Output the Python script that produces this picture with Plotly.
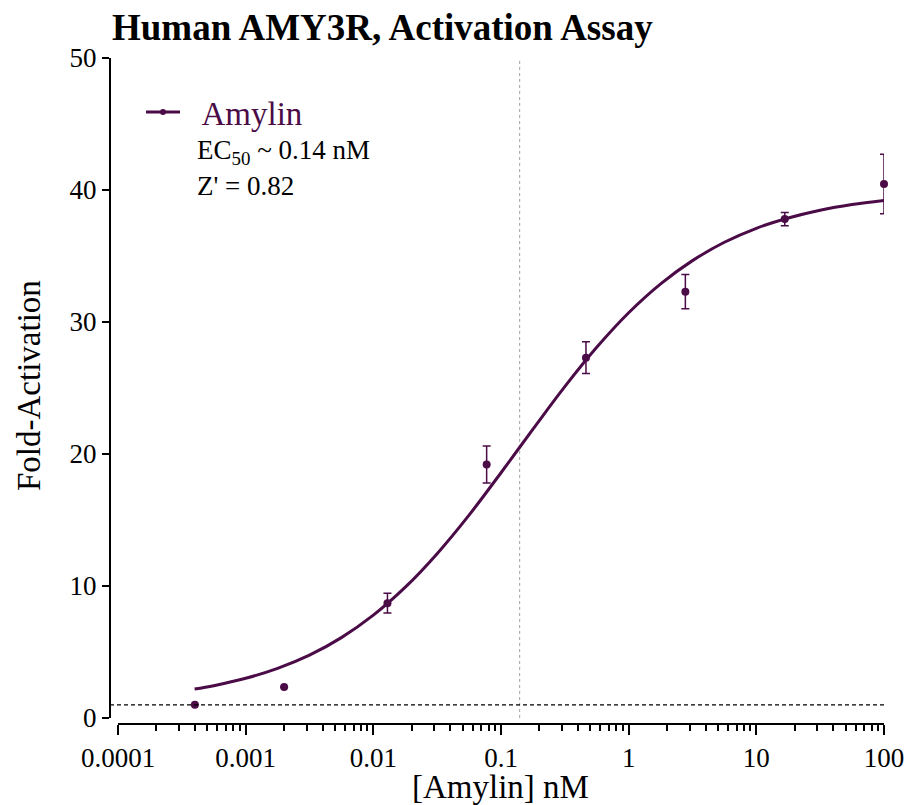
import plotly.graph_objects as go

# Data
conc_nM = [0.0004, 0.002, 0.0129, 0.0772, 0.463, 2.78, 16.7, 100]
fold_act = [1.0, 2.35, 8.7, 19.2, 27.3, 32.3, 37.8, 40.45]
fold_err = [0.0, 0.0, 0.75, 1.4, 1.2, 1.3, 0.5, 2.25]

# Fitted curve
curve_x = [0.000398, 0.000562, 0.001, 0.00178, 0.00316, 0.00562, 0.01, 0.0178, 0.0316,
           0.0562, 0.1, 0.178, 0.316, 0.562, 1.0, 1.78, 3.16, 5.62, 10, 17.8, 31.6, 56.2, 100]
curve_y = [2.19, 2.45, 3.01, 3.76, 4.76, 6.09, 7.79, 9.91, 12.45,
           15.37, 18.58, 21.88, 25.1, 28.08, 30.7, 32.89, 34.65, 36.04, 37.1, 37.88, 38.47, 38.9, 39.21]

ec50 = 0.14
baseline = 1.0
x_tickvals = [0.0001, 0.001, 0.01, 0.1, 1, 10, 100]
x_ticktext = ["0.0001", "0.001", "0.01", "0.1", "1", "10", "100"]
y_tickvals = [0, 10, 20, 30, 40, 50]

purple = "#4A0B47"
font = "Liberation Serif"

W, H = 907, 805
L, R, T, B = 110, 23, 58, 81
PW, PH = W - L - R, H - T - B


def px(x):
    return (x - L) / PW


def py(y):
    return (H - B - y) / PH


fig = go.Figure()

# EC50 dotted vertical line
fig.add_trace(go.Scatter(x=[ec50, ec50], y=[-0.45, 50], mode="lines",
                         line=dict(color="#a0a0a0", width=1, dash="dot"),
                         showlegend=False, hoverinfo="skip", cliponaxis=False))

fig.add_trace(go.Scatter(x=curve_x, y=curve_y, mode="lines", line_shape="spline",
                         line=dict(color=purple, width=3), showlegend=False))

fig.add_trace(go.Scatter(x=conc_nM, y=fold_act, mode="markers",
                         marker=dict(color=purple, size=8),
                         error_y=dict(type="data", array=fold_err, visible=True,
                                      color=purple, thickness=1.5, width=4),
                         showlegend=False, cliponaxis=False))

# legend entry
fig.add_trace(go.Scatter(x=[None], y=[None], mode="lines+markers", name="\u2002Amylin",
                         line=dict(color=purple, width=3), marker=dict(color=purple, size=6)))

# Baseline dashed
fig.add_shape(type="line", xref="paper", yref="y", x0=0, x1=1, y0=baseline, y1=baseline,
              line=dict(color="black", width=1.2, dash="4px,3px"))

fig.update_layout(
    width=W, height=H,
    paper_bgcolor="white", plot_bgcolor="white",
    margin=dict(l=L, r=R, t=T, b=B, autoexpand=False),
    font=dict(family=font, color="black", size=27),
    title=dict(text="<b>Human AMY3R, Activation Assay</b>", x=112 / W, xanchor="left",
               y=1 - 27 / H, yanchor="middle", font=dict(size=37, family=font, color="black")),
    showlegend=True,
    legend=dict(x=px(141), y=py(112), xanchor="left", yanchor="middle", bgcolor="rgba(0,0,0,0)",
                font=dict(size=33, color=purple, family=font), itemwidth=34),
    xaxis=dict(type="log", range=[-4, 2], domain=[8 / PW, 1], anchor="free", position=0,
               tickvals=x_tickvals, ticktext=x_ticktext, automargin=False,
               showline=True, linecolor="black", linewidth=2,
               ticks="outside", ticklen=10, tickwidth=2, tickcolor="black",
               minor=dict(ticks="outside", ticklen=6, tickwidth=1.5, tickcolor="black",
                          dtick="D1", showgrid=False),
               showgrid=False, zeroline=False,
               tickfont=dict(size=27, family=font)),
    yaxis=dict(range=[0, 50], domain=[6 / PH, 1], anchor="free", position=0,
               tickvals=y_tickvals, automargin=False,
               showline=True, linecolor="black", linewidth=2,
               ticks="outside", ticklen=7, tickwidth=2, tickcolor="black",
               showgrid=False, zeroline=False,
               tickfont=dict(size=27, family=font)),
)

fig.add_annotation(text="Fold-Activation", xref="paper", yref="paper",
                   x=px(29), y=py(386), textangle=-90, xanchor="center", yanchor="middle",
                   showarrow=False, font=dict(size=33, family=font, color="black"))
fig.add_annotation(text="[Amylin] nM", xref="paper", yref="paper",
                   x=px(500), y=py(787), xanchor="center", yanchor="middle",
                   showarrow=False, font=dict(size=33, family=font, color="black"))
fig.add_annotation(text="EC<sub>50</sub> ~ 0.14 nM", xref="paper", yref="paper",
                   x=px(195), y=py(152), xanchor="left", yanchor="middle",
                   showarrow=False, font=dict(size=27, family=font, color="black"))
fig.add_annotation(text="Z' = 0.82", xref="paper", yref="paper",
                   x=px(195), y=py(186), xanchor="left", yanchor="middle",
                   showarrow=False, font=dict(size=27, family=font, color="black"))

fig.write_html("out.html", config={"displayModeBar": False},
               post_script="document.body.style.margin='0';document.body.style.overflow='hidden';")
